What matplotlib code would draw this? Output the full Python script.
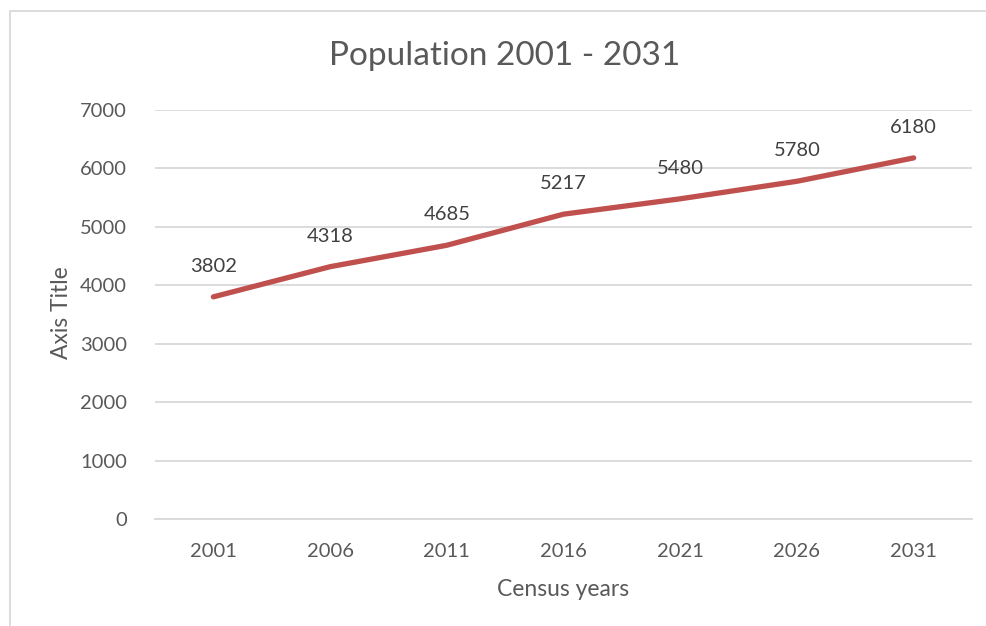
import matplotlib.pyplot as plt
from matplotlib.patches import Rectangle

years = ['2001', '2006', '2011', '2016', '2021', '2026', '2031']
population = [3802, 4318, 4685, 5217, 5480, 5780, 6180]
yticks = [0, 1000, 2000, 3000, 4000, 5000, 6000, 7000]

plt.rcParams['font.family'] = ['Lato', 'DejaVu Sans']
txt = '#595959'
grid = '#D9D9D9'

fig = plt.figure(figsize=(9.87, 6.26), dpi=100)
ax = fig.add_axes([155 / 987, 1 - 519 / 626, 817 / 987, 409 / 626])

# outer chart border
fig.patches.append(Rectangle((10 / 987, -0.1), 1.2, 1.1 - 11 / 626, transform=fig.transFigure,
                             fill=False, edgecolor=grid, linewidth=1.3))

x = range(len(years))
ax.plot(x, population, color='#C0504D', linewidth=3.8, solid_capstyle='round')
for i, v in zip(x, population):
    ax.annotate(str(v), (i, v), textcoords='offset points', xytext=(0, 22),
                ha='center', va='center', fontsize=14.5, color='#404040')

ax.set_xlim(-0.5, len(years) - 0.5)
ax.set_ylim(0, 7000)
ax.set_yticks(yticks)
ax.set_xticks(list(x))
ax.set_xticklabels(years)
ax.grid(axis='y', color=grid, linewidth=1.3)
ax.set_axisbelow(True)
for s in ['top', 'right', 'left']:
    ax.spines[s].set_visible(False)
ax.spines['bottom'].set_color(grid)
ax.spines['bottom'].set_linewidth(1.3)
ax.tick_params(length=0, labelsize=14.5, labelcolor=txt)
ax.tick_params(axis='y', pad=20)
ax.tick_params(axis='x', pad=17)

fig.text(505 / 987, 1 - 56 / 626, 'Population 2001 - 2031', ha='center', va='center',
         fontsize=24, color=txt)
fig.text(62 / 987, 1 - 313 / 626, 'Axis Title', ha='center', va='center',
         rotation=90, fontsize=16.5, color=txt)
fig.text(563 / 987, 1 - 589 / 626, 'Census years', ha='center', va='center',
         fontsize=16.5, color=txt)

fig.savefig('out.png', dpi=100)
